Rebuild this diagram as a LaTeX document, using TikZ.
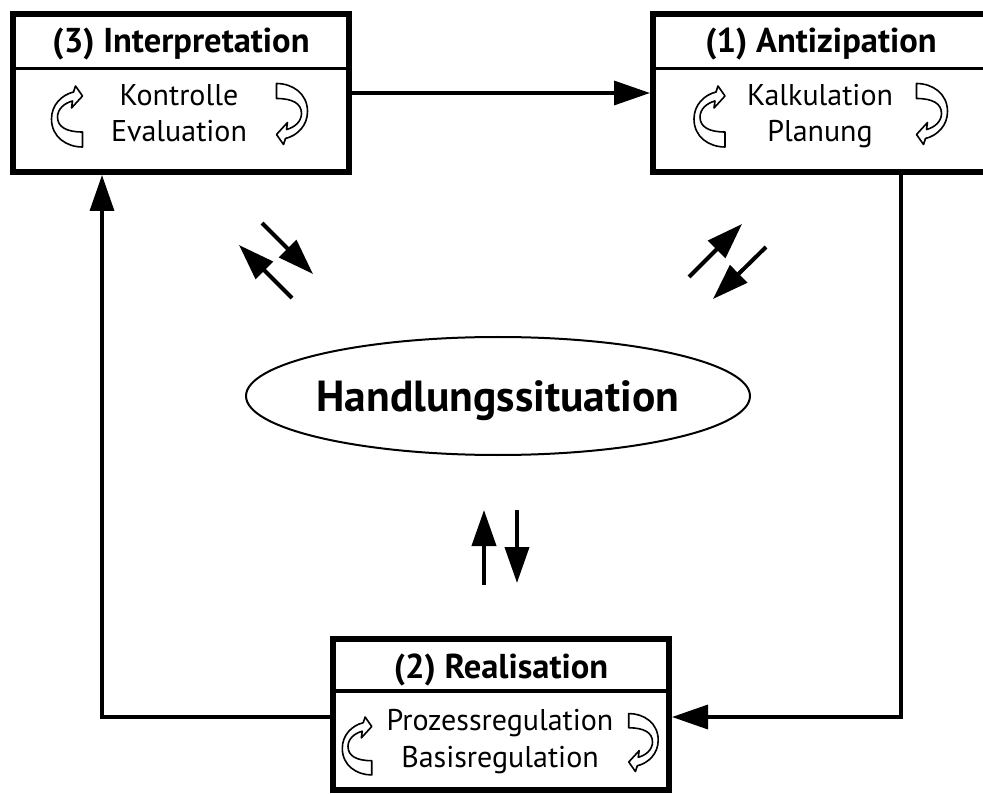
\documentclass[tikz,border=0pt]{standalone}
\usepackage{fontspec}
\setmainfont{PT Sans}
\usetikzlibrary{arrows.meta,shapes.geometric}
\tikzset{
  box/.style={draw,line width=6pt,minimum width=336pt,inner sep=0pt},
  conn/.style={line width=3.5pt,-{Triangle[length=36pt,width=24pt]}},
  sarr/.style={line width=4pt,-{Triangle[length=36pt,width=24pt]}},
  sep/.style={line width=3.5pt},
  ttl/.style={font=\bfseries\fontsize{34.5}{36}\selectfont,anchor=base,inner sep=0pt},
  txt/.style={font=\fontsize{30}{32}\selectfont,anchor=base,inner sep=0pt},
  cyc/.pic={
    \filldraw[fill=white,line width=1.6pt,line join=round]
      (15,31) -- (15,16)
      .. controls (-1,16) and (-10,11) .. (-10,1)
      .. controls (-10,-7) and (-3,-13) .. (5,-15)
      -- (4,-8) -- (15,-20) -- (8,-30) -- (6,-24)
      .. controls (-6,-21) and (-16,-11) .. (-16,3)
      .. controls (-16,21) and (-1,31) .. (15,31) -- cycle;
  }
}
\begin{document}
\begin{tikzpicture}[x=1pt,y=-1pt]
\useasboundingbox (0,0) rectangle (983,794);
\clip (0,0) rectangle (983,794);

% boxes
\node[box,minimum height=158pt] (b3) at (181,93) {};
\node[box,minimum height=158pt] (b1) at (821,93) {};
\node[box,minimum height=151pt] (b2) at (501,714.5) {};

\coordinate (s3) at (0,68.5);
\coordinate (s1) at (0,68.5);
\coordinate (s2) at (0,691);
\draw[sep] (b3.west |- s3) -- (b3.east |- s3);
\draw[sep] (b1.west |- s1) -- (b1.east |- s1);
\draw[sep] (b2.west |- s2) -- (b2.east |- s2);

% titles
\node[ttl] (t3) at (181,53) {(3) Interpretation};
\node[ttl] (t1) at (821,53) {(1) Antizipation};
\node[ttl] (t2) at (501,678) {(2) Realisation};

% body texts
\node[txt] (k3a) at (179,106) {Kontrolle};
\node[txt] (k3b) at (179,142) {Evaluation};
\node[txt] (k1a) at (820,106) {Kalkulation};
\node[txt] (k1b) at (820,142) {Planung};
\node[txt] (k2a) at (500,730) {Prozessregulation};
\node[txt] (k2b) at (500,767) {Basisregulation};

% cycle icons
\pic at (67.5,116) {cyc};
\pic[rotate=180] at (291.5,114.5) {cyc};
\pic at (710,116) {cyc};
\pic[rotate=180] at (931.5,114.5) {cyc};
\pic[scale=0.95] at (357.5,745.5) {cyc};
\pic[rotate=180,scale=0.95] at (643,743) {cyc};

% central ellipse
\node[ellipse,draw,line width=2pt,minimum width=504pt,minimum height=118pt,inner sep=0pt] (hs) at (498,396) {};
\node[anchor=base,inner sep=0pt,font=\bfseries\fontsize{43.5}{45}\selectfont] (hst) at (498,411) {Handlungssituation};

% connectors
\coordinate (c1) at (901,717);
\coordinate (c2) at (102,717);
\draw[conn] (b3.east) -- (b1.west);
\draw[conn] (b1.south -| c1) -- (c1) -- (b2.east |- c1);
\draw[conn] (b2.west |- c2) -- (c2) -- (b3.south -| c2);

% small arrow pairs
\coordinate (a1s) at (262,223); \coordinate (a1e) at (313,274);
\coordinate (a2s) at (292,298); \coordinate (a2e) at (239,245);
\coordinate (a3s) at (689,277); \coordinate (a3e) at (742,224);
\coordinate (a4s) at (766,247); \coordinate (a4e) at (713,299);
\coordinate (a5s) at (484,585); \coordinate (a5e) at (484,510);
\coordinate (a6s) at (517,510); \coordinate (a6e) at (517,583);
\draw[sarr] (a1s) -- (a1e);
\draw[sarr] (a2s) -- (a2e);
\draw[sarr] (a3s) -- (a3e);
\draw[sarr] (a4s) -- (a4e);
\draw[sarr] (a5s) -- (a5e);
\draw[sarr] (a6s) -- (a6e);
\end{tikzpicture}
\end{document}
